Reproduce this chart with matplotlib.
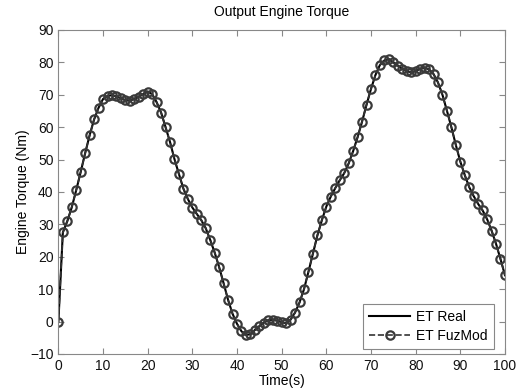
import matplotlib
matplotlib.use("Agg")
import matplotlib.pyplot as plt
import numpy as np

plt.rcParams['font.family'] = ['Liberation Sans', 'DejaVu Sans']

time_s = list(range(0, 101))
et_values = [
    0, 27.5, 31, 35.3, 40.6, 46.2, 52, 57.5, 62.4, 66,          # 0-9
    68.7, 69.6, 69.9, 69.5, 68.9, 68.3, 68.2, 68.7, 69.4, 70.2,  # 10-19
    71, 70.2, 67.7, 64.5, 60, 55.4, 50.1, 45.5, 41, 37.8,        # 20-29
    35.2, 33.2, 31.3, 28.8, 25.2, 21.3, 16.8, 11.8, 6.7, 2.4,    # 30-39
    -0.7, -3, -4.1, -3.9, -2.6, -1.4, -0.3, 0.4, 0.5, 0.3,       # 40-49
    -0.2, -0.5, 0.6, 2.8, 5.9, 10, 15.4, 21, 26.6, 31.3,         # 50-59
    35.5, 38.6, 41.2, 43.6, 45.8, 48.8, 52.6, 56.9, 61.7, 66.9,  # 60-69
    71.8, 76.1, 79.2, 80.6, 81, 80, 79, 78, 77.3, 76.9,          # 70-79
    77.3, 78, 78.4, 77.8, 76.4, 73.8, 70, 65.1, 60, 54.5,        # 80-89
    49.4, 45.2, 41.5, 38.7, 36.3, 34.3, 31.6, 28.1, 24, 19.3,    # 90-99
    14.3,                                                        # 100
]
x_ticks = [0, 10, 20, 30, 40, 50, 60, 70, 80, 90, 100]
y_ticks = [-10, 0, 10, 20, 30, 40, 50, 60, 70, 80, 90]

fig = plt.figure(figsize=(5.26, 3.89), dpi=100)
ax = fig.add_axes([0.111, 0.090, 0.849, 0.833])

ax.plot(time_s, et_values, '-', color='black', linewidth=1.5, label='ET Real')
ax.plot(time_s, et_values, '--', color='#333333', linewidth=1.2, marker='o',
        markersize=6, markerfacecolor='none', markeredgecolor='#3a3a3a',
        markeredgewidth=1.6, label='ET FuzMod')

ax.set_xlim(0, 100)
ax.set_ylim(-10, 90)
ax.set_xticks(x_ticks)
ax.set_yticks(y_ticks)
ax.tick_params(direction='in', top=True, right=True, labelsize=10, length=4,
               color='#888888', width=0.8, labelcolor='#111111')
for s in ax.spines.values():
    s.set_color('#888888')
    s.set_linewidth(0.8)

ax.set_title('Output Engine Torque', fontsize=10, pad=10)
ax.set_xlabel('Time(s)', fontsize=10, labelpad=1)
ax.set_ylabel('Engine Torque (Nm)', fontsize=10, labelpad=0)

leg = ax.legend(loc='lower right', bbox_to_anchor=(0.975, 0.015), fontsize=10,
                fancybox=False, framealpha=1, edgecolor='#888888',
                borderaxespad=0, handlelength=3.0, borderpad=0.45,
                labelspacing=0.35, handletextpad=0.4)
leg.get_frame().set_linewidth(0.8)

fig.savefig('out.png', dpi=100)
